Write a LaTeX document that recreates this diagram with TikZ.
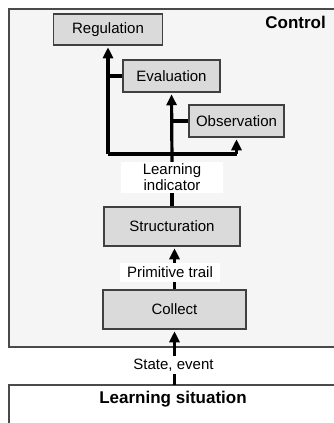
\documentclass[tikz,border=0pt]{standalone}
\usepackage{fontspec}
\setmainfont{Liberation Sans}
\usetikzlibrary{arrows.meta}
\definecolor{boxfill}{HTML}{DADADA}
\definecolor{boxline}{HTML}{404040}
\definecolor{frameline}{HTML}{4A4A4A}
\definecolor{ctrlfill}{HTML}{F5F5F5}
\tikzset{
  stepbox/.style={draw=boxline, line width=1.5pt, fill=boxfill, inner sep=0pt,
    font=\fontsize{15}{17}\selectfont},
  lbl/.style={fill=white, inner sep=0pt, align=center,
    font=\fontsize{15}{16}\selectfont},
  conn/.style={line width=3.2pt, black},
  arr/.style={conn, -{Triangle[length=11pt,width=10pt]}, shorten >=1.5pt},
  title/.style={font=\bfseries\fontsize{17}{19}\selectfont, inner sep=0pt},
  frame/.style={draw=frameline, line width=2pt}
}
\begin{document}
\begin{tikzpicture}[x=1pt,y=-1pt]
\useasboundingbox (0,0) rectangle (334,423);
\clip (0,0) rectangle (334,423);
\fill[white] (0,0) rectangle (334,423);
% frames
\draw[frame, fill=ctrlfill] (9,9) rectangle (345,347);
\node[title, anchor=north east] (ctrl) at (326,16) {Control};
\draw[frame, fill=white] (9,385) rectangle (345,440);
\coordinate (sit) at (174.5,385);
\node[title] (sittext) at (173,399) {Learning situation};
% boxes
\node[stepbox, minimum width=109pt, minimum height=31pt] (reg) at (108,29.5) {Regulation};
\node[stepbox, minimum width=97pt, minimum height=32pt] (eval) at (171.5,76) {Evaluation};
\node[stepbox, minimum width=95pt, minimum height=32pt] (obs) at (236.5,121) {Observation};
\node[lbl, minimum width=102pt, minimum height=31pt] (li) at (172,177.5) {Learning\\indicator};
\node[stepbox, minimum width=136pt, minimum height=39pt] (struct) at (172,226.5) {Structuration};
\node[lbl, minimum width=100pt, minimum height=19pt] (prim) at (170,272.5) {Primitive trail};
\node[stepbox, minimum width=143pt, minimum height=39pt] (collect) at (174.5,309.5) {Collect};
\node[lbl, minimum width=84pt, minimum height=17pt] (state) at (173.5,365) {State, event};
% junctions
\coordinate (jl) at (108,154);
\coordinate (jr) at (236.5,154);
% connectors
\draw[conn] (jl) -- (jr);
\draw[arr] (jl) -- (reg.south);
\draw[arr] (jr) -- (obs.south);
\draw[conn] (eval.west) -- (eval.west -| jl);
\draw[conn] (obs.west) -- (obs.west -| eval.south);
\draw[arr] (li.north) -- (eval.south);
\draw[conn] (struct.north) -- (li.south);
\draw[conn] (collect.north) -- (collect.north |- prim.south);
\draw[arr] (collect.north |- prim.north) -- (collect.north |- struct.south);
\draw[conn] (sit) -- (sit |- state.south);
\draw[arr] (sit |- state.north) -- (collect.south);
\end{tikzpicture}
\end{document}
